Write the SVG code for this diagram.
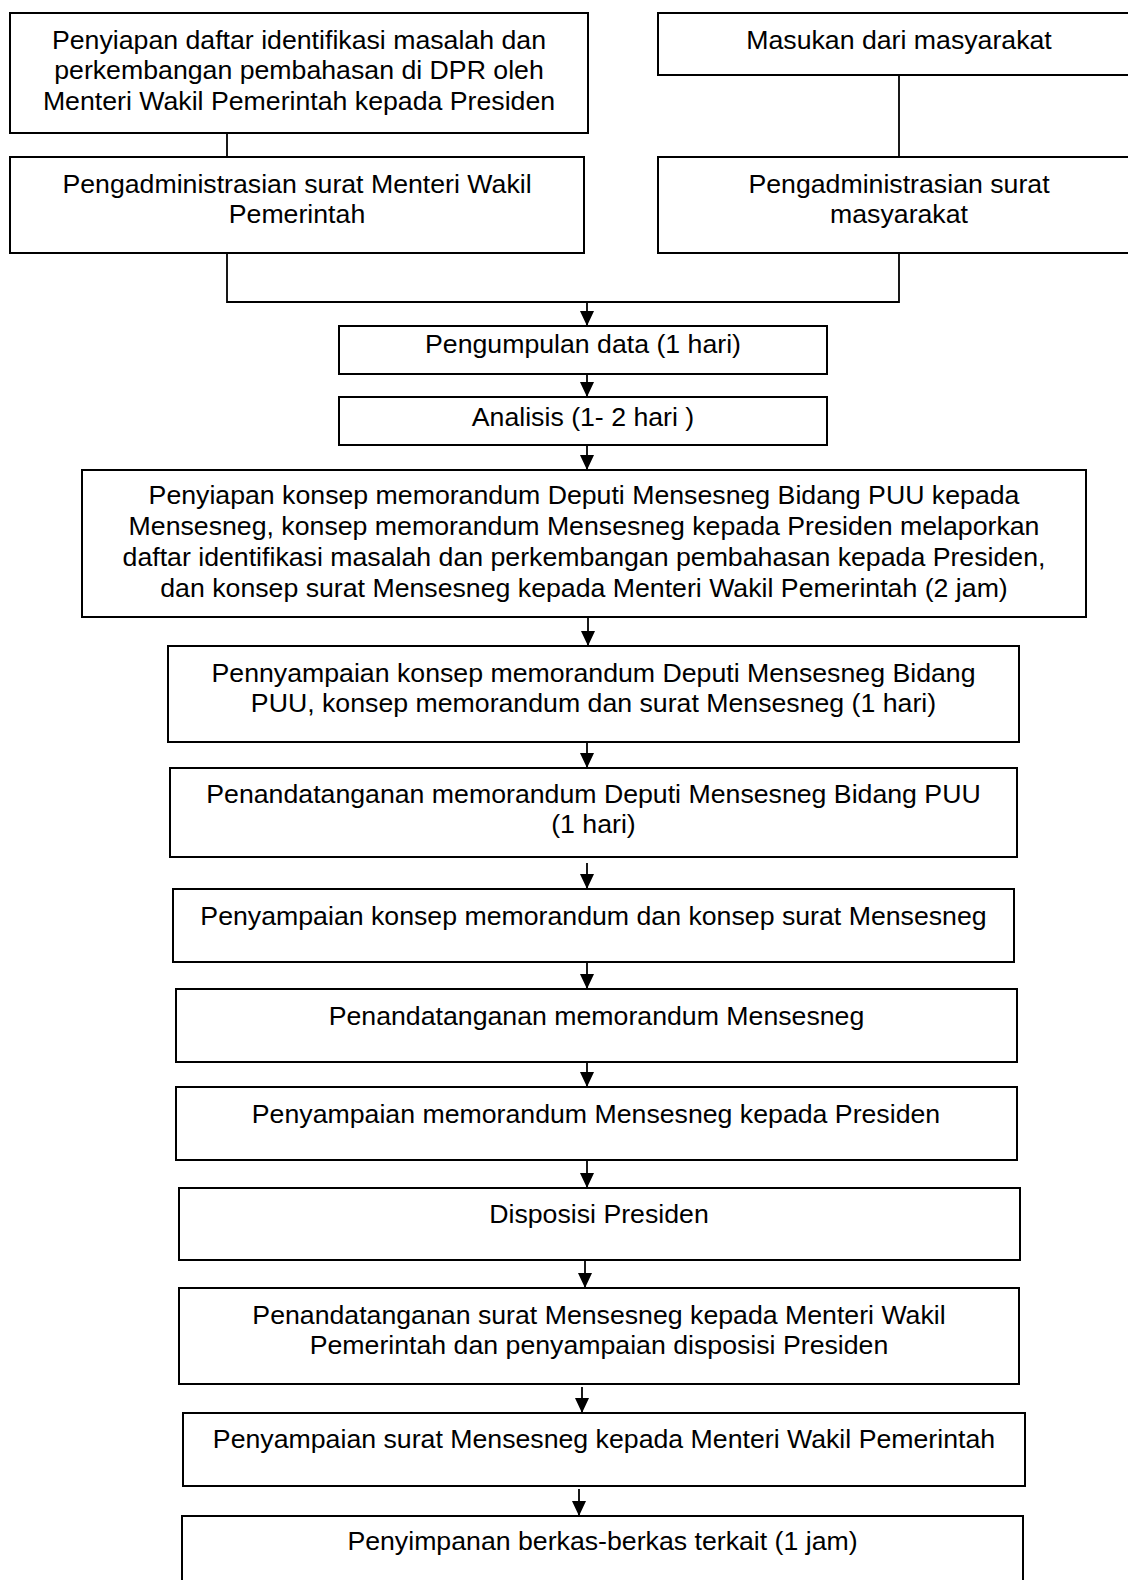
<svg xmlns="http://www.w3.org/2000/svg" width="1128" height="1580" viewBox="0 0 1128 1580">
<defs>
<marker id="ah" viewBox="0 0 15 14" refX="15" refY="7" markerWidth="15" markerHeight="14" markerUnits="userSpaceOnUse" orient="auto">
<path d="M0,0 L15,7 L0,14 z" fill="#000"/>
</marker>
<style>
.box{fill:#fff;stroke:#000;stroke-width:2}
.t{font-family:"Liberation Sans",Arial,sans-serif;font-size:26.7px;fill:#000;text-anchor:middle}
.c{fill:none;stroke:#000;stroke-width:1.8}
.a{fill:none;stroke:#000;stroke-width:1.8;marker-end:url(#ah)}
</style>
</defs>
<rect width="1128" height="1580" fill="#fff"/>
<g id="connectors">
<line class="c" x1="227" y1="133" x2="227" y2="157"/>
<line class="c" x1="899" y1="75" x2="899" y2="157"/>
<polyline class="c" points="227,253 227,302 899,302 899,253"/>
<line class="a" x1="587" y1="302" x2="587" y2="326"/>
<line class="a" x1="587" y1="374" x2="587" y2="397"/>
<line class="a" x1="587" y1="445" x2="587" y2="470"/>
<line class="a" x1="588" y1="617" x2="588" y2="646"/>
<line class="a" x1="587" y1="742" x2="587" y2="768"/>
<line class="a" x1="587" y1="863" x2="587" y2="889"/>
<line class="a" x1="587" y1="962" x2="587" y2="989"/>
<line class="a" x1="587" y1="1062" x2="587" y2="1087"/>
<line class="a" x1="587" y1="1160" x2="587" y2="1188"/>
<line class="a" x1="585" y1="1260" x2="585" y2="1288"/>
<line class="a" x1="582" y1="1387" x2="582" y2="1413"/>
<line class="a" x1="579" y1="1489" x2="579" y2="1516"/>
</g>
<g id="n1"><rect class="box" x="10" y="13" width="578" height="120"/>
<text class="t" x="299" y="48.5">Penyiapan daftar identifikasi masalah dan</text>
<text class="t" x="299" y="79">perkembangan pembahasan di DPR oleh</text>
<text class="t" x="299" y="109.5">Menteri Wakil Pemerintah kepada Presiden</text></g>
<g id="n2"><rect class="box" x="658" y="13" width="482" height="62"/>
<text class="t" x="899" y="48.5">Masukan dari masyarakat</text></g>
<g id="n3"><rect class="box" x="10" y="157" width="574" height="96"/>
<text class="t" x="297" y="192.5">Pengadministrasian surat Menteri Wakil</text>
<text class="t" x="297" y="222.5">Pemerintah</text></g>
<g id="n4"><rect class="box" x="658" y="157" width="482" height="96"/>
<text class="t" x="899" y="192.5">Pengadministrasian surat</text>
<text class="t" x="899" y="222.5">masyarakat</text></g>
<g id="n5"><rect class="box" x="339" y="326" width="488" height="48"/>
<text class="t" x="583" y="353">Pengumpulan data (1 hari)</text></g>
<g id="n6"><rect class="box" x="339" y="397" width="488" height="48"/>
<text class="t" x="583" y="425.5">Analisis (1- 2 hari )</text></g>
<g id="n7"><rect class="box" x="82" y="470" width="1004" height="147"/>
<text class="t" x="584" y="504">Penyiapan konsep memorandum Deputi Mensesneg Bidang PUU kepada</text>
<text class="t" x="584" y="535">Mensesneg, konsep memorandum Mensesneg kepada Presiden melaporkan</text>
<text class="t" x="584" y="566">daftar identifikasi masalah dan perkembangan pembahasan kepada Presiden,</text>
<text class="t" x="584" y="596.5">dan konsep surat Mensesneg kepada Menteri Wakil Pemerintah (2 jam)</text></g>
<g id="n8"><rect class="box" x="168" y="646" width="851" height="96"/>
<text class="t" x="593.5" y="681.5">Pennyampaian konsep memorandum Deputi Mensesneg Bidang</text>
<text class="t" x="593.5" y="712">PUU, konsep memorandum dan surat Mensesneg (1 hari)</text></g>
<g id="n9"><rect class="box" x="170" y="768" width="847" height="89"/>
<text class="t" x="593.5" y="803">Penandatanganan memorandum Deputi Mensesneg Bidang PUU</text>
<text class="t" x="593.5" y="833">(1 hari)</text></g>
<g id="n10"><rect class="box" x="173" y="889" width="841" height="73"/>
<text class="t" x="593.5" y="925">Penyampaian konsep memorandum dan konsep surat Mensesneg</text></g>
<g id="n11"><rect class="box" x="176" y="989" width="841" height="73"/>
<text class="t" x="596.5" y="1025">Penandatanganan memorandum Mensesneg</text></g>
<g id="n12"><rect class="box" x="176" y="1087" width="841" height="73"/>
<text class="t" x="596" y="1122.5">Penyampaian memorandum Mensesneg kepada Presiden</text></g>
<g id="n13"><rect class="box" x="179" y="1188" width="841" height="72"/>
<text class="t" x="599" y="1222.5">Disposisi Presiden</text></g>
<g id="n14"><rect class="box" x="179" y="1288" width="840" height="96"/>
<text class="t" x="599" y="1323.5">Penandatanganan surat Mensesneg kepada Menteri Wakil</text>
<text class="t" x="599" y="1353.5">Pemerintah dan penyampaian disposisi Presiden</text></g>
<g id="n15"><rect class="box" x="183" y="1413" width="842" height="73"/>
<text class="t" x="604" y="1447.5">Penyampaian surat Mensesneg kepada Menteri Wakil Pemerintah</text></g>
<g id="n16"><rect class="box" x="182" y="1516" width="841" height="90"/>
<text class="t" x="602.5" y="1549.5">Penyimpanan berkas-berkas terkait (1 jam)</text></g>
</svg>
